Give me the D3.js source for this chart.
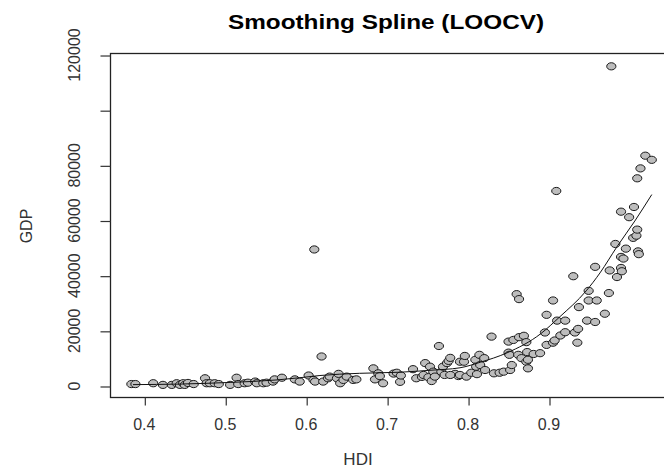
<!DOCTYPE html>
<html><head><meta charset="utf-8">
<script src="https://cdn.jsdelivr.net/npm/d3@7"></script>
<style>body{margin:0;background:#fff}svg{display:block}</style>
</head><body>
<svg id="c" width="664" height="468"></svg>
<script>
const titleText = "Smoothing Spline (LOOCV)";
const xLabel = "HDI";
const yLabel = "GDP";
const xTicks = [0.4, 0.5, 0.6, 0.7, 0.8, 0.9];
const xTickLabels = ["0.4", "0.5", "0.6", "0.7", "0.8", "0.9"];
const yTicks = [0, 20000, 40000, 60000, 80000, 100000, 120000];
const yTickLabels = ["0", "20000", "40000", "60000", "80000", "", "120000"];

const hdi = [
 0.384,0.389,0.411,0.423,0.434,0.440,0.444,0.448,0.450,0.454,0.461,0.475,0.477,0.481,0.487,0.492,
 0.506,0.514,0.516,0.524,0.528,0.537,0.539,0.547,0.551,0.559,0.561,0.570,0.586,
 0.592,0.603,0.609,0.611,0.619,0.621,0.627,0.629,0.638,0.640,0.642,0.646,0.650,0.658,0.662,
 0.683,0.685,0.689,0.691,0.695,0.610,
 0.708,0.712,0.716,0.717,0.732,0.736,0.743,0.745,0.747,0.751,0.753,0.755,0.757,0.759,0.764,
 0.767,0.769,0.771,0.774,0.776,0.778,0.784,0.788,0.778,
 0.790,0.790,0.795,0.796,0.798,0.804,0.809,0.810,0.811,0.814,0.815,0.820,0.821,0.829,0.832,
 0.839,0.844,0.850,0.850,0.851,0.852,0.854,0.856,0.860,0.862,0.863,0.863,0.866,0.869,0.872,
 0.872,0.873,0.874,0.874,0.881,0.889,0.895,0.897,0.897,0.905,0.905,0.907,0.909,0.910,0.914,
 0.920,0.920,0.930,0.932,0.935,0.936,0.937,0.947,0.949,0.949,0.957,0.957,0.959,0.969,0.974,
 0.975,0.977,0.982,0.984,0.989,0.989,0.989,0.990,0.992,0.995,0.999,1.004,1.005,1.008,1.009,
 1.009,1.010,1.011,1.013,1.019,1.027
];
const gdp = [
 700,700,1000,400,400,1000,400,1000,400,1100,700,2800,1000,1000,1000,700,
 400,3000,700,1000,1200,1600,1000,1000,1200,1600,2400,3000,2400,
 1600,3800,2200,1600,10700,1600,2800,3400,2800,4400,1000,2200,3400,2200,2400,
 6400,2400,4600,3600,1000,49500,
 4500,4800,1500,3800,6100,2800,3300,4000,8300,3200,7000,1800,5200,3400,14500,
 5200,7000,4000,8300,9100,10200,4400,3600,4000,
 4000,8800,8800,10900,3400,4800,9500,7000,4300,11300,7600,10100,5800,17900,4600,
 4800,5200,16100,12100,11300,5800,7600,16700,33300,11300,31500,17700,10100,18200,15900,
 8800,12300,9500,6400,11600,11900,19400,25800,14900,15700,31000,16500,70700,23700,18300,
 23700,19500,39800,19400,15700,20700,28600,23700,34500,31000,23200,43200,31000,26200,33700,
 41900,115900,51500,39500,63200,46800,42800,41600,46200,49800,61200,53700,64900,54500,56700,
 75300,48800,47800,78900,83500,82000
];

const fitHdi = [0.386,0.444,0.506,0.564,0.592,0.617,0.666,0.716,0.753,0.790,0.815,0.848,0.890,0.913,0.946,0.963,0.984,1.006,1.027];
const fitGdp = [500,700,1300,2200,3000,3800,4600,5000,5700,6600,8600,12000,19000,25000,34500,41000,50500,59800,69400];

const W = 664, H = 468;
const m = {left:110, right:-6, top:53, bottom:71};
const svg = d3.select("#c");
const x = d3.scaleLinear().domain([0.3576, 1.0495]).range([m.left, W - m.right]);
const y = d3.scaleLinear().domain([-3990, 120730]).range([H - m.bottom, m.top]);
const font = "'Liberation Sans', Arial, sans-serif";

// points
const pts = hdi.map((h, i) => ({h, g: gdp[i]}));
svg.append("g").selectAll("ellipse").data(pts).join("ellipse")
  .attr("cx", d => x(d.h)).attr("cy", d => y(d.g))
  .attr("rx", 4.6).attr("ry", 3.6)
  .attr("fill", "#bdbdbd").attr("stroke", "#1a1a1a").attr("stroke-width", 1);

// spline fit
const fit = fitHdi.map((h, i) => [h, fitGdp[i]]);
svg.append("path").datum(fit)
  .attr("d", d3.line().x(d => x(d[0])).y(d => y(d[1])).curve(d3.curveMonotoneX))
  .attr("fill", "none").attr("stroke", "#111").attr("stroke-width", 1);

// box
svg.append("rect").attr("x", m.left + 0.5).attr("y", m.top + 0.5)
  .attr("width", W - m.right - m.left).attr("height", H - m.bottom - m.top)
  .attr("fill", "none").attr("stroke", "#222").attr("stroke-width", 1.3);

// axes ticks
const xa = svg.append("g").attr("transform", `translate(0.5,${H - m.bottom + 0.5})`)
  .call(d3.axisBottom(x).tickValues(xTicks).tickSize(8).tickSizeOuter(0).tickFormat(""));
xa.select(".domain").remove();
xa.selectAll("line").attr("stroke", "#333").attr("stroke-width", 1.2);
const ya = svg.append("g").attr("transform", `translate(${m.left + 0.5},0.5)`)
  .call(d3.axisLeft(y).tickValues(yTicks).tickSize(10).tickSizeOuter(0).tickFormat(""));
ya.select(".domain").remove();
ya.selectAll("line").attr("stroke", "#333").attr("stroke-width", 1.2);

// tick labels
svg.append("g").selectAll("text").data(xTicks).join("text")
  .attr("x", d => x(d)).attr("y", 430)
  .attr("text-anchor", "middle").attr("font-family", font).attr("font-size", 16)
  .attr("fill", "#333").text((d, i) => xTickLabels[i]);
svg.append("g").selectAll("text").data(yTicks).join("text")
  .attr("transform", d => `translate(80,${y(d)}) rotate(-90)`)
  .attr("text-anchor", "middle").attr("font-family", font).attr("font-size", 16)
  .attr("fill", "#333").text((d, i) => yTickLabels[i]);

// axis titles
svg.append("text").attr("x", 358).attr("y", 465).attr("text-anchor", "middle")
  .attr("font-family", font).attr("font-size", 17).attr("fill", "#333").text(xLabel);
svg.append("text").attr("transform", "translate(32,226) rotate(-90)").attr("text-anchor", "middle")
  .attr("font-family", font).attr("font-size", 16).attr("fill", "#333").text(yLabel);

// title
svg.append("text").attr("x", 386).attr("y", 29).attr("text-anchor", "middle")
  .attr("font-family", font).attr("font-size", 20).attr("font-weight", "bold").attr("fill", "#000")
  .attr("textLength", 316).attr("lengthAdjust", "spacingAndGlyphs").text(titleText);
</script>
</body></html>
